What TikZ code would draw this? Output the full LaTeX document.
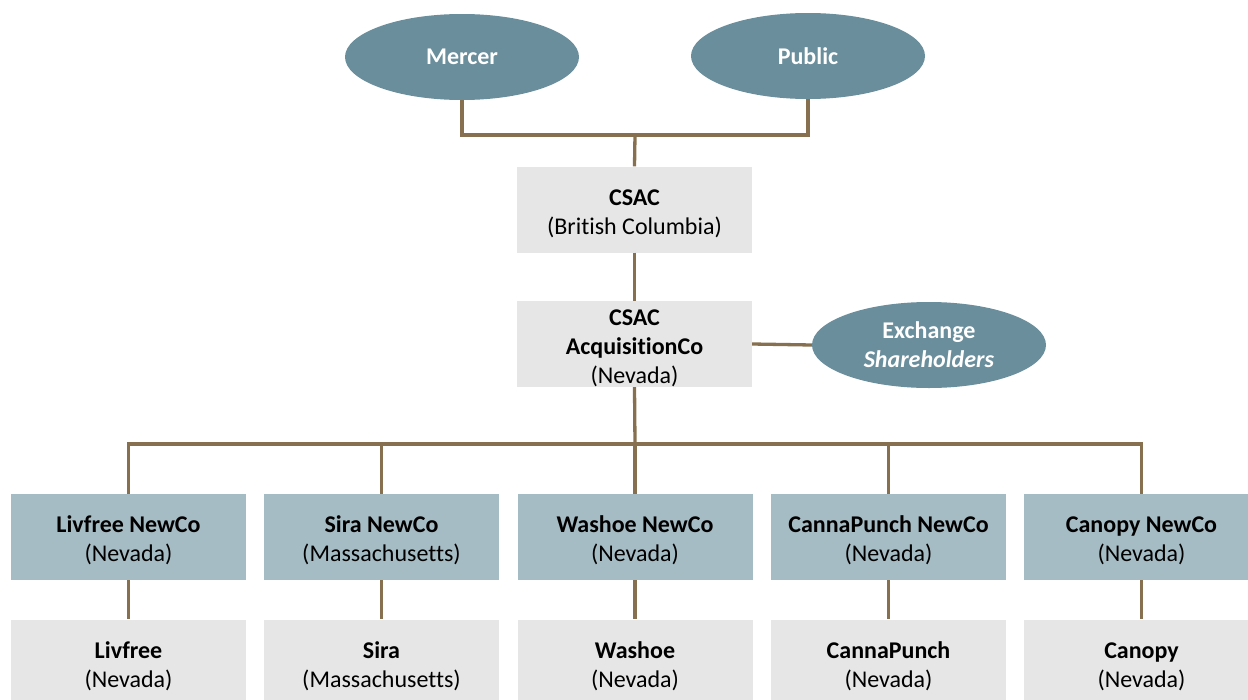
\documentclass[tikz,border=0pt]{standalone}
\usepackage{fontspec}
\setmainfont{Carlito}[Ligatures=NoCommon]
\usetikzlibrary{shapes.geometric}
\definecolor{ovalc}{HTML}{6A8E9C}
\definecolor{newcoc}{HTML}{A6BCC4}
\definecolor{grayc}{HTML}{E6E6E6}
\definecolor{linkc}{HTML}{86704F}
\newcommand\fsz{\fontsize{24}{29}\selectfont}
\newcommand\tstr{\rule{0pt}{24pt}}
\tikzset{
  oval/.style={ellipse, fill=ovalc, minimum width=234pt, minimum height=86pt, inner sep=0pt, text=white, font=\fsz\bfseries, align=center},
  graybox/.style={rectangle, fill=grayc, minimum width=235pt, minimum height=86pt, inner sep=0pt, font=\fsz, align=center},
  newcobox/.style={graybox, fill=newcoc},
  link/.style={draw=linkc, line width=3.3pt, line join=miter}
}
\begin{document}
\begin{tikzpicture}[x=1pt,y=-1pt]
\useasboundingbox (0,0) rectangle (1248,699);
\clip (0,0) rectangle (1248,699);
% ovals
\node[oval] (mercer) at (462,57) {Mercer};
\node[oval] (public) at (808,56) {Public};
\node[oval] (exch) at (929,345) {Exchange\\\textit{Shareholders}};
% boxes
\node[graybox] (csac) at (634.5,209.5) {\tstr\textbf{CSAC}\\(British Columbia)};
\node[graybox] (acq) at (634.5,344) {\tstr\textbf{CSAC}\\\textbf{AcquisitionCo}\\(Nevada)};
\node[newcobox] (n1) at (128.5,537) {\tstr\textbf{Livfree NewCo}\\(Nevada)};
\node[newcobox] (n2) at (381.5,537) {\tstr\textbf{Sira NewCo}\\(Massachusetts)};
\node[newcobox] (n3) at (635,537) {\tstr\textbf{Washoe NewCo}\\(Nevada)};
\node[newcobox] (n4) at (888.5,537) {\tstr\textbf{CannaPunch NewCo}\\(Nevada)};
\node[newcobox] (n5) at (1141.5,537) {\tstr\textbf{Canopy NewCo}\\(Nevada)};
\node[graybox] (b1) at (128.5,662.5) {\tstr\textbf{Livfree}\\(Nevada)};
\node[graybox] (b2) at (381.5,662.5) {\tstr\textbf{Sira}\\(Massachusetts)};
\node[graybox] (b3) at (635,662.5) {\tstr\textbf{Washoe}\\(Nevada)};
\node[graybox] (b4) at (888.5,662.5) {\tstr\textbf{CannaPunch}\\(Nevada)};
\node[graybox] (b5) at (1141.5,662.5) {\tstr\textbf{Canopy}\\(Nevada)};
% connectors
\coordinate (top) at (635,135);
\coordinate (bus) at (635,444);
\draw[link] (mercer.south) |- (top) -| (public.south);
\draw[link] (top) -- (csac.north);
\draw[link] (csac.south) -- (acq.north);
\draw[link] (acq.east) -- (exch.west);
\draw[link] (acq.south) -- (bus);
\draw[link] (n1.north) |- (bus) -| (n5.north);
\draw[link] (bus) -| (n2.north);
\draw[link] (bus) -- (n3.north);
\draw[link] (bus) -| (n4.north);
\draw[link] (n1.south) -- (b1.north);
\draw[link] (n2.south) -- (b2.north);
\draw[link] (n3.south) -- (b3.north);
\draw[link] (n4.south) -- (b4.north);
\draw[link] (n5.south) -- (b5.north);
\end{tikzpicture}
\end{document}
